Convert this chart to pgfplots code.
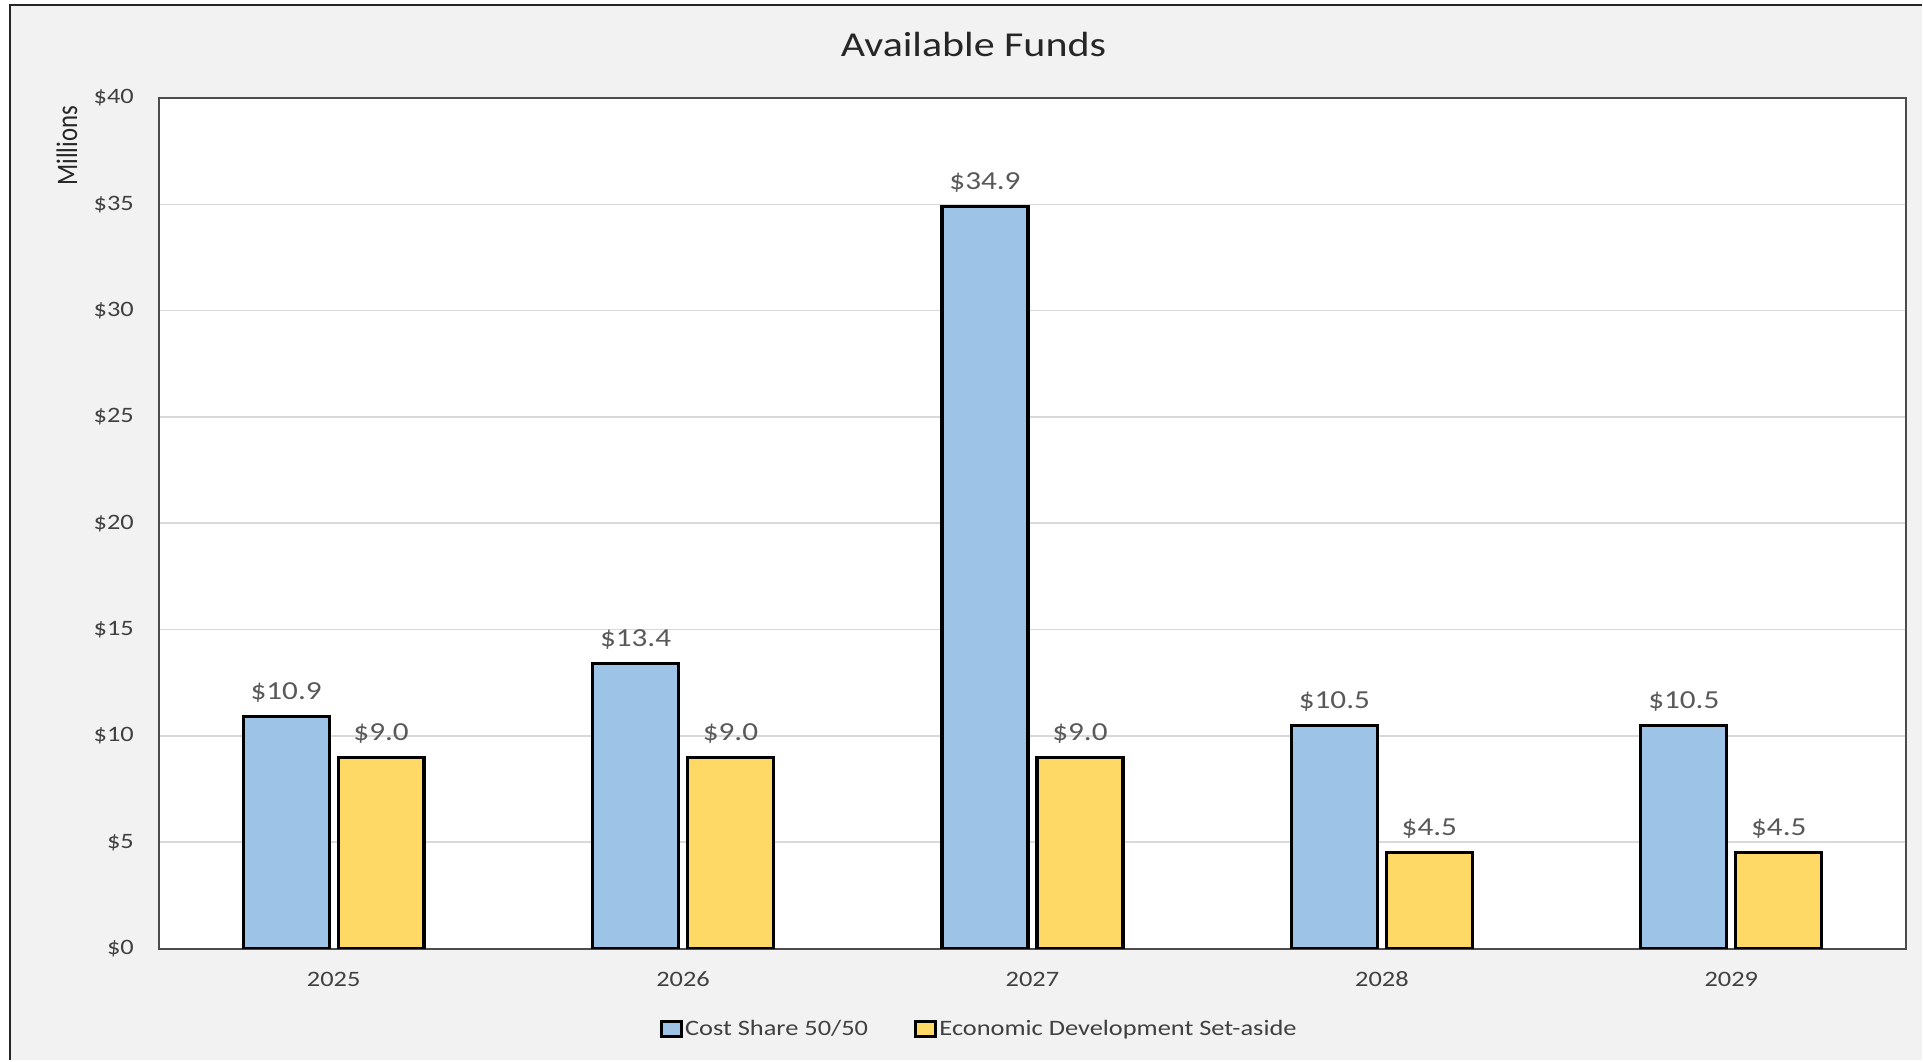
\documentclass[border=0pt]{standalone}
\usepackage{fontspec}
% the reference is stretched sideways, so the text is too
\setmainfont[FakeStretch=1.2]{Carlito}
\newfontfamily\plainfont{Carlito}
\usepackage{pgfplots}
\pgfplotsset{compat=1.18}

\definecolor{costblue}{HTML}{9DC3E6}
\definecolor{edyellow}{HTML}{FFD966}
\definecolor{chartbg}{HTML}{F2F2F2}
\definecolor{gridgray}{HTML}{D9D9D9}
\definecolor{labelgray}{HTML}{595959}
\definecolor{tickgray}{HTML}{404040}

\pgfplotsset{
  fundbar/.style={
    ybar, bar width=43pt, draw=black, line width=1.6pt,
    bar shift=#1,
    legend image code/.code={
      \draw[##1, line width=1.5pt] (0pt,-3.9pt) rectangle (9.8pt,3.9pt);},
    nodes near coords={\$\pgfmathprintnumber[fixed,fixed zerofill,precision=1]{\pgfplotspointmeta}},
    every node near coord/.append style={anchor=base, xshift=#1, yshift=8.5pt,
      font=\fontsize{13}{15}\selectfont, text=labelgray},
  },
}

\begin{document}
\begin{tikzpicture}
% 1 px of the reference = 0.5pt
\fill[white] (0,0) rectangle (961.5pt,530.5pt);
\fill[chartbg] (5pt,0) rectangle (961.5pt,528pt);
\draw[black!85, line width=1pt] (5pt,0) -- (5pt,528pt) -- (961.5pt,528pt);
\useasboundingbox (0,0) rectangle (961.5pt,530.5pt);

\begin{axis}[
  at={(79.5pt,56pt)}, anchor=south west,
  width=874pt, height=425.5pt, scale only axis,
  xmin=-0.5, xmax=4.5,
  ymin=0, ymax=40,
  xtick={0,1,2,3,4},
  xticklabels={2025,2026,2027,2028,2029},
  ytick={0,5,...,40},
  yticklabel={\$\pgfmathprintnumber{\tick}},
  /pgf/number format/assume math mode=true,
  major tick length=0pt,
  ymajorgrids,
  grid style={gridgray, line width=0.75pt},
  axis line style={black!70, line width=1pt},
  axis background/.style={fill=white},
  tick label style={font=\fontsize{11}{13}\selectfont, text=tickgray},
  xticklabel style={anchor=base, yshift=-19pt},
  yticklabel style={anchor=east, xshift=-9pt},
  legend style={at={(0.4697,-0.0946)}, anchor=center, draw=none, fill=none,
    inner sep=0pt, nodes={inner sep=1.2pt},
    font=\fontsize{11}{13}\selectfont, text=tickgray,
    /tikz/every even column/.append style={column sep=22pt}},
  legend columns=2,
  legend cell align=left,
]
\addplot[fundbar=-23.75pt, fill=costblue]
  coordinates {(0,10.9) (1,13.4) (2,34.9) (3,10.5) (4,10.5)};
\addlegendentry{Cost Share 50/50}
\addplot[fundbar=23.75pt, fill=edyellow]
  coordinates {(0,9.0) (1,9.0) (2,9.0) (3,4.5) (4,4.5)};
\addlegendentry{Economic Development Set-aside}
\end{axis}

\node[anchor=base, font=\fontsize{17.5}{21}\selectfont, text=black!85]
  at (487pt,502pt) {Available Funds};
\node[rotate=90, text=black!85]
  at (33.5pt,457.5pt) {\scalebox{1}[1.2]{\plainfont\fontsize{12.4}{15}\selectfont Millions}};
\end{tikzpicture}
\end{document}
